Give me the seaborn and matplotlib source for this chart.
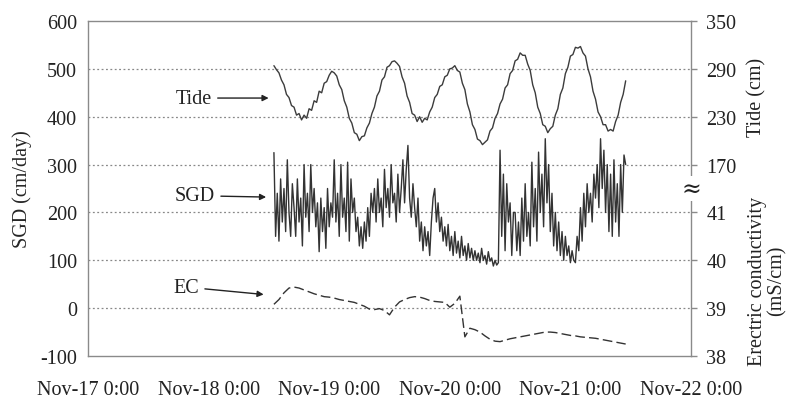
import pandas as pd
import matplotlib
matplotlib.use("Agg")
import matplotlib.pyplot as plt
import matplotlib.transforms as mtransforms
import seaborn as sns

# SGD (cm/day), every 20 min from Nov-18 13:00
sgd = [
    325, 150, 240, 140, 270, 180, 250, 160, 310, 200, 150, 260,
    210, 150, 270, 180, 230, 130, 300, 190, 240, 160, 300, 200,
    250, 170, 220, 118, 230, 160, 210, 125, 250, 170, 220, 190,
    310, 180, 240, 150, 300, 190, 230, 160, 305, 140, 270, 200,
    230, 160, 190, 130, 170, 125, 180, 140, 210, 150, 240, 200,
    250, 180, 270, 200, 230, 170, 290, 210, 250, 190, 300, 220,
    240, 180, 280, 200, 250, 310, 220, 290, 340, 230, 190, 260,
    210, 170, 230, 140, 180, 120, 170, 130, 160, 110, 180, 230,
    250, 180, 220, 160, 190, 140, 170, 130, 175, 120, 150, 110,
    160, 115, 140, 105, 150, 110, 130, 100, 135, 105, 125, 100,
    120, 100, 115, 95, 125, 100, 110, 92, 118, 98, 105, 88,
    100, 90, 95, 330, 150, 280, 120, 260, 180, 220, 110, 200,
    200, 120, 180, 110, 230, 140, 260, 150, 200, 130, 305, 170,
    250, 140, 326, 200, 280, 170, 354, 220, 300, 160, 240, 130,
    200, 120, 180, 110, 160, 100, 150, 110, 130, 95, 120, 100,
    95, 150, 120, 210, 140, 240, 170, 260, 200, 240, 180, 280,
    230, 300, 210, 354, 250, 330, 200, 300, 160, 280, 150, 310,
    180, 260, 150, 300, 200, 320, 300,
]

# Tide (cm), every 30 min from Nov-18 13:00
tide = [
    294, 289, 285, 276, 270, 258, 254, 244, 242, 232, 234, 226,
    232, 228, 240, 238, 250, 248, 262, 260, 272, 274, 282, 287,
    285, 281, 270, 264, 250, 242, 228, 222, 210, 208, 200, 205,
    206, 216, 222, 234, 242, 256, 262, 276, 280, 292, 294, 299,
    300, 297, 293, 280, 272, 256, 248, 234, 232, 224, 230, 223,
    228, 226, 236, 242, 254, 258, 268, 270, 280, 282, 290, 291,
    294, 288, 286, 272, 264, 246, 236, 220, 214, 202, 200, 195,
    198, 201, 212, 216, 228, 234, 246, 252, 266, 270, 284, 288,
    300, 302, 310, 307, 307, 296, 288, 270, 260, 242, 234, 220,
    218, 210, 215, 218, 232, 240, 258, 266, 284, 292, 306, 308,
    317, 316, 318, 310, 306, 290, 280, 262, 252, 236, 230, 220,
    220, 212, 214, 212, 224, 232, 248, 258, 275,
]

# Electric conductivity (mS/cm), hourly from Nov-18 13:00
ec = [
    39.08, 39.18, 39.32, 39.42, 39.44, 39.42, 39.38, 39.34, 39.30, 39.27,
    39.24, 39.23, 39.21, 39.18, 39.16, 39.14, 39.12, 39.08, 39.04, 38.98,
    38.97, 38.99, 38.95, 38.86, 39.02, 39.13, 39.18, 39.22, 39.24, 39.23,
    39.20, 39.16, 39.14, 39.13, 39.12, 39.02, 39.10, 39.25, 38.40, 38.58,
    38.55, 38.50, 38.42, 38.35, 38.31, 38.30, 38.33, 38.36, 38.38, 38.40,
    38.42, 38.44, 38.46, 38.48, 38.50, 38.50, 38.49, 38.47, 38.45, 38.43,
    38.42, 38.40, 38.39, 38.38, 38.37, 38.35, 38.33, 38.31, 38.29, 38.27,
    38.25,
]

x_days = ["2008-11-17", "2008-11-18", "2008-11-19", "2008-11-20", "2008-11-21", "2008-11-22"]
x_labels = ["Nov-17 0:00", "Nov-18 0:00", "Nov-19 0:00", "Nov-20 0:00", "Nov-21 0:00", "Nov-22 0:00"]
left_ticks = [-100, 0, 100, 200, 300, 400, 500, 600]
right_labels = ["38", "39", "40", "41", "170", "230", "290", "350"]

start = pd.Timestamp("2008-11-18 13:00")
df_sgd = pd.DataFrame({"time": pd.date_range(start, periods=len(sgd), freq="20min"), "val": sgd})
df_tide = pd.DataFrame({"time": pd.date_range(start, periods=len(tide), freq="30min"), "cm": tide})
df_ec = pd.DataFrame({"time": pd.date_range(start, periods=len(ec), freq="60min"), "ms": ec})

# map tide and EC onto the SGD scale used by the left axis
df_tide["val"] = 300 + (df_tide["cm"] - 170) / 0.6
df_ec["val"] = (df_ec["ms"] - 39) * 100

sns.set_style("white")
plt.rcParams["font.family"] = ["Liberation Serif", "DejaVu Serif"]
plt.rcParams["font.size"] = 14.5
plt.rcParams["text.color"] = "#222222"

fig = plt.figure(figsize=(7.98, 4.02), dpi=100)
ax = fig.add_axes([88 / 798, 1 - 357 / 402, 603 / 798, 335 / 402])

for y in [0, 100, 200, 300, 400, 500]:
    ax.axhline(y, color="#888888", lw=0.9, ls=(0, (1.5, 2.0)), zorder=0)

sns.lineplot(data=df_tide, x="time", y="val", ax=ax, color="#3c3c3c", lw=1.0)
sns.lineplot(data=df_sgd, x="time", y="val", ax=ax, color="#333333", lw=1.0)
sns.lineplot(data=df_ec, x="time", y="val", ax=ax, color="#333333", lw=1.0,
             dashes=False, linestyle=(0, (7, 3)))

ax.set_xlim(pd.Timestamp(x_days[0]), pd.Timestamp(x_days[-1]))
ax.set_xticks(pd.to_datetime(x_days))
ax.set_xticklabels(x_labels)
ax.set_ylim(-100, 600)
ax.set_yticks(left_ticks)
ax.set_yticklabels([str(v) for v in left_ticks])
ax.set_xlabel("")
ax.set_ylabel("SGD (cm/day)", labelpad=6)
ax.tick_params(axis="x", length=0, pad=17, colors="#222222")
ax.tick_params(axis="y", length=0, pad=8, colors="#222222")
for s in ax.spines.values():
    s.set_color("#8a8a8a")
    s.set_linewidth(1.0)

ax2 = ax.twinx()
ax2.set_ylim(-100, 600)
ax2.set_yticks(left_ticks)
ax2.set_yticklabels(right_labels)
ax2.tick_params(axis="y", length=4, width=1.0, direction="out", pad=7,
                color="#8a8a8a", labelcolor="#222222")
for s in ax2.spines.values():
    s.set_visible(False)

# axis break marker on the right spine
trans = mtransforms.blended_transform_factory(ax.transAxes, ax.transData)
ax.text(1.0, 250, "\u2248", transform=trans, ha="center", va="center", fontsize=17,
        family="DejaVu Serif", clip_on=False, zorder=10,
        bbox=dict(boxstyle="square,pad=0.05", fc="white", ec="none"))

ax.text(1.11, 0.776, "Tide (cm)", transform=ax.transAxes, rotation=90,
        ha="center", va="center")
ax.text(1.11, 0.227, "Erectric conductivity", transform=ax.transAxes, rotation=90,
        ha="center", va="center")
ax.text(1.142, 0.227, "(mS/cm)", transform=ax.transAxes, rotation=90,
        ha="center", va="center")

arrow = dict(arrowstyle="-|>", color="#222222", lw=1.0, mutation_scale=9)
ax.annotate("Tide", xy=(pd.Timestamp("2008-11-18 12:30"), 439),
            xytext=(pd.Timestamp("2008-11-17 21:00"), 439), arrowprops=arrow,
            ha="center", va="center")
ax.annotate("SGD", xy=(pd.Timestamp("2008-11-18 12:00"), 232),
            xytext=(pd.Timestamp("2008-11-17 21:15"), 235), arrowprops=arrow,
            ha="center", va="center")
ax.annotate("EC", xy=(pd.Timestamp("2008-11-18 11:30"), 28),
            xytext=(pd.Timestamp("2008-11-17 19:30"), 44), arrowprops=arrow,
            ha="center", va="center")

fig.savefig("out.png", dpi=100)
